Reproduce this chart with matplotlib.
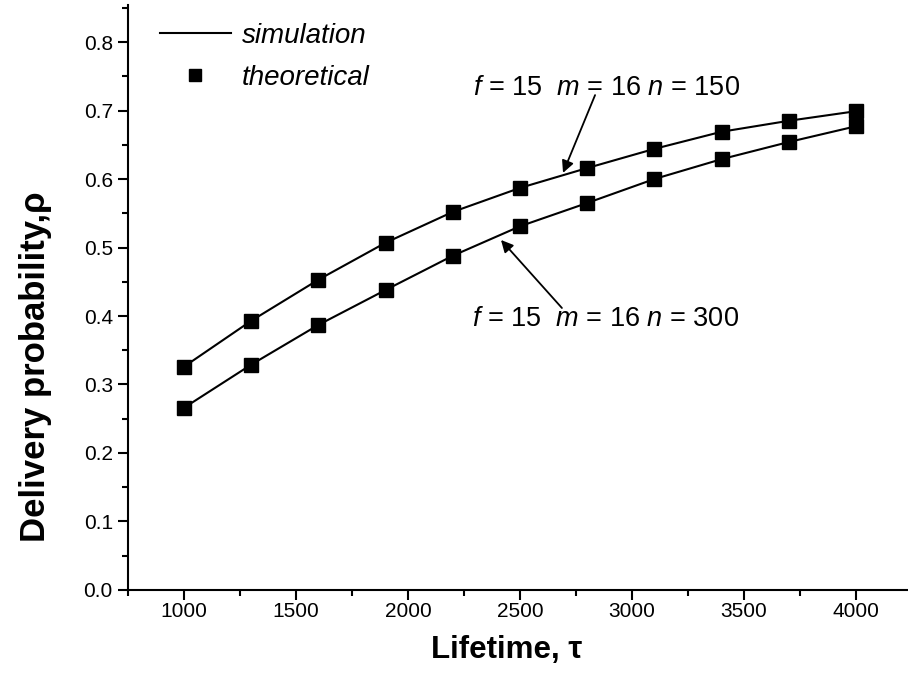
import numpy as np
import matplotlib
matplotlib.use("Agg")
import matplotlib.pyplot as plt
from matplotlib.lines import Line2D
from matplotlib.ticker import MultipleLocator, FormatStrFormatter

plt.rcParams['font.family'] = ['Liberation Sans', 'DejaVu Sans']
plt.rcParams['mathtext.fontset'] = 'custom'
plt.rcParams['mathtext.rm'] = 'Liberation Sans'
plt.rcParams['mathtext.it'] = 'Liberation Sans:italic'

# lifetime values and delivery probability
lifetime = [1000, 1300, 1600, 1900, 2200, 2500, 2800, 3100, 3400, 3700, 4000]
rho_n150 = [0.326, 0.393, 0.453, 0.507, 0.552, 0.587, 0.616, 0.644, 0.669, 0.685, 0.699]
rho_n300 = [0.266, 0.329, 0.387, 0.438, 0.488, 0.531, 0.565, 0.600, 0.629, 0.654, 0.677]

label_150 = r"$f$ = 15  $m$ = 16 $n$ = 150"
label_300 = r"$f$ = 15  $m$ = 16 $n$ = 300"

fig = plt.figure(figsize=(9.08, 6.87), dpi=100)
ax = fig.add_axes([0.141, 0.1412, 0.859, 0.8515])

for rho in (rho_n150, rho_n300):
    ax.plot(lifetime, rho, '-', color='k', lw=1.5)
    ax.plot(lifetime, rho, 's', color='k', ms=10, mec='k')

ax.set_xlim(750, 4232)
ax.set_ylim(0, 0.854)
ax.set_xticks([1000, 1500, 2000, 2500, 3000, 3500, 4000])
ax.xaxis.set_minor_locator(MultipleLocator(250))
ax.set_yticks(np.arange(0, 0.81, 0.1))
ax.yaxis.set_minor_locator(MultipleLocator(0.05))
ax.yaxis.set_major_formatter(FormatStrFormatter('%.1f'))

for s in ('top', 'right'):
    ax.spines[s].set_visible(False)
for s in ('left', 'bottom'):
    ax.spines[s].set_linewidth(1.5)
ax.tick_params(which='major', direction='out', length=7.5, width=1.5, labelsize=15)
ax.tick_params(axis='x', which='major', pad=1.5)
ax.tick_params(axis='y', which='major', pad=3.5)
ax.tick_params(which='minor', direction='out', length=4.5, width=1.5)

ax.set_xlabel("Lifetime, τ", fontsize=22.5, fontweight='bold')
ax.set_ylabel("Delivery probability,ρ", fontsize=25, fontweight='bold')
ax.xaxis.set_label_coords(0.486, -0.077)
ax.yaxis.set_label_coords(-0.098, 0.381)

ax.text(2290, 0.722, label_150, fontsize=19.5, ha='left', va='baseline')
ax.text(2285, 0.385, label_300, fontsize=19.5, ha='left', va='baseline')
ax.annotate("", xy=(2692, 0.609), xytext=(2835, 0.7225),
            arrowprops=dict(arrowstyle='-|>', color='k', lw=1.3, mutation_scale=18,
                            shrinkA=0, shrinkB=0))
ax.annotate("", xy=(2415, 0.511), xytext=(2687, 0.4117),
            arrowprops=dict(arrowstyle='-|>', color='k', lw=1.3, mutation_scale=18,
                            shrinkA=0, shrinkB=0))

handles = [Line2D([], [], color='k', lw=1.5),
           Line2D([], [], color='k', ls='none', marker='s', ms=9)]
ax.legend(handles, ['simulation', 'theoretical'], loc='upper left',
          bbox_to_anchor=(0.041, 0.969), frameon=False, borderpad=0, borderaxespad=0,
          handlelength=2.55, handletextpad=0.4, labelspacing=0.57,
          prop={'size': 20, 'style': 'italic'})

fig.savefig("out.png", dpi=100)
